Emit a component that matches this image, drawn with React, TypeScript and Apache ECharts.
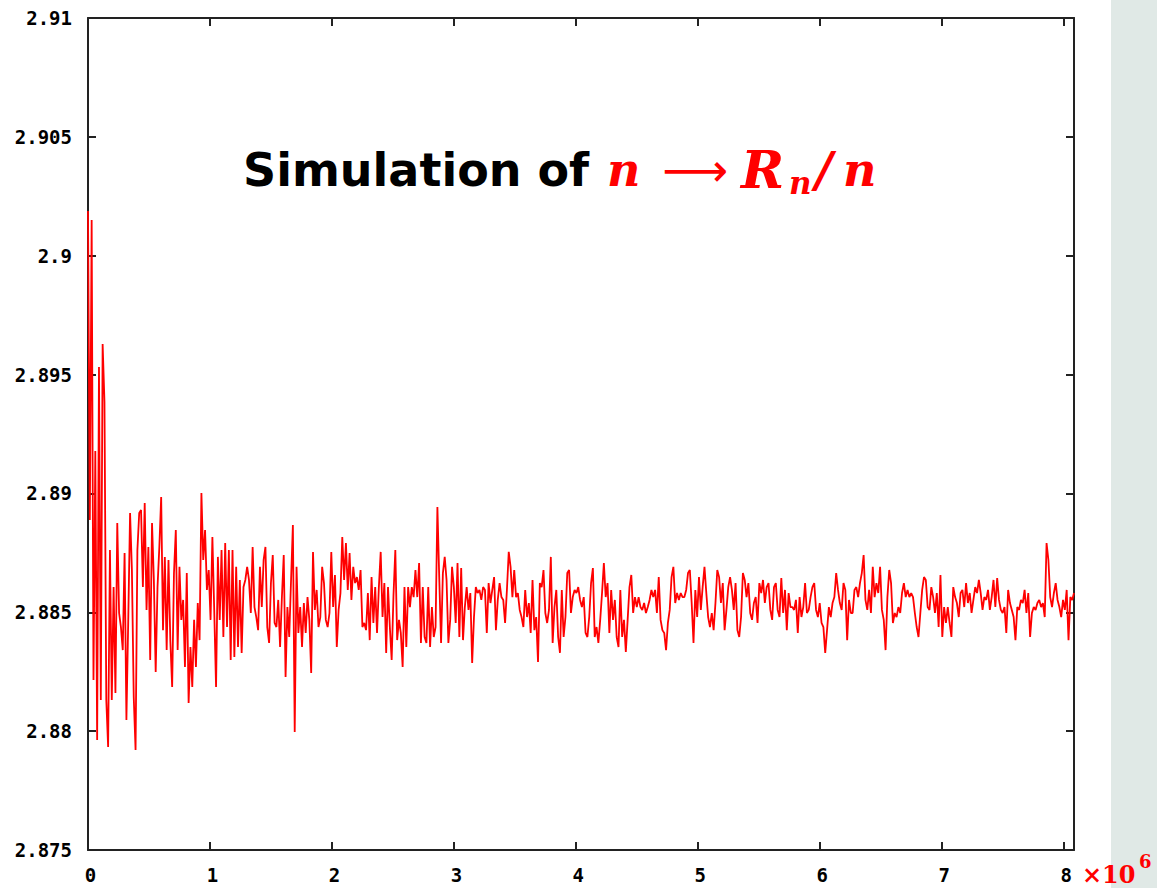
import React, { useEffect, useRef } from 'react';
import * as echarts from 'echarts';

// sample spacing along n, in units of 10^6 steps
const SAMPLE_STEP = 0.015;
const X_MIN = 0;
const X_MAX = 8.085;
const X_INTERVAL = 1;
const Y_MIN = 2.875;
const Y_MAX = 2.91;
const Y_INTERVAL = 0.005;
const X_TICK_LABELS = ['0', '1', '2', '3', '4', '5', '6', '7', '8'];

// R_n / n, in order of n
const ratioPart1 = [
  2.90188, 2.88888, 2.90150, 2.88215, 2.89178, 2.87963, 2.89532, 2.88131, 2.89629, 2.89385,
  2.88131, 2.87933, 2.88762, 2.88131, 2.88606, 2.88160, 2.88876, 2.88497, 2.88438, 2.88341,
  2.88749, 2.88047, 2.88468, 2.88918, 2.88678, 2.88144, 2.87921, 2.88762, 2.88918, 2.88930,
  2.88606, 2.88960, 2.88510, 2.88775, 2.88299, 2.88876, 2.88636, 2.88249, 2.88606, 2.88775,
  2.88985, 2.88425, 2.88733, 2.88341, 2.88720, 2.88383, 2.88186, 2.88665, 2.88846, 2.88341,
  2.88691, 2.88468, 2.88552, 2.88270, 2.88665, 2.88118, 2.88354, 2.88186, 2.88468, 2.88270,
  2.88539, 2.88383, 2.89002, 2.88720, 2.88846, 2.88594, 2.88678, 2.88468, 2.88817, 2.88510,
  2.88186, 2.88733, 2.88468, 2.88762, 2.88396, 2.88791, 2.88438, 2.88762, 2.88299, 2.88762,
  2.88312, 2.88691, 2.88354, 2.88636, 2.88329, 2.88606, 2.88636, 2.88691, 2.88636, 2.88497,
  2.88775, 2.88522,
];
const ratioPart2 = [
  2.88480, 2.88425, 2.88691, 2.88522, 2.88720, 2.88775, 2.88438, 2.88371, 2.88623, 2.88741,
  2.88455, 2.88438, 2.88552, 2.88354, 2.88564, 2.88741, 2.88228, 2.88522, 2.88396, 2.88636,
  2.88867, 2.87996, 2.88691, 2.88413, 2.88522, 2.88354, 2.88539, 2.88413, 2.88564, 2.88468,
  2.88245, 2.88754, 2.88510, 2.88594, 2.88438, 2.88480, 2.88691, 2.88623, 2.88468, 2.88438,
  2.88497, 2.88754, 2.88522, 2.88657, 2.88354, 2.88510, 2.88581, 2.88817, 2.88636, 2.88791,
  2.88594, 2.88749, 2.88552, 2.88691, 2.88623, 2.88648, 2.88594, 2.88678, 2.88438, 2.88455,
  2.88425, 2.88581, 2.88383, 2.88648, 2.88455, 2.88606, 2.88413, 2.88606, 2.88754, 2.88480,
  2.88623, 2.88329, 2.88606, 2.88438, 2.88299, 2.88573, 2.88762, 2.88383, 2.88468, 2.88413,
  2.88270, 2.88606, 2.88354, 2.88606, 2.88522, 2.88606, 2.88564, 2.88678, 2.88564, 2.88707,
];
const ratioPart3 = [
  2.88371, 2.88606, 2.88396, 2.88371, 2.88606, 2.88354, 2.88522, 2.88396, 2.88438, 2.88943,
  2.88648, 2.88371, 2.88665, 2.88733, 2.88636, 2.88371, 2.88468, 2.88691, 2.88606, 2.88455,
  2.88707, 2.88396, 2.88686, 2.88383, 2.88522, 2.88606, 2.88510, 2.88581, 2.88287, 2.88480,
  2.88606, 2.88581, 2.88594, 2.88552, 2.88606, 2.88594, 2.88413, 2.88623, 2.88539, 2.88594,
  2.88648, 2.88425, 2.88552, 2.88623, 2.88564, 2.88552, 2.88455, 2.88594, 2.88754, 2.88691,
  2.88564, 2.88678, 2.88564, 2.88581, 2.88510, 2.88480, 2.88438, 2.88594, 2.88480, 2.88539,
  2.88413, 2.88636, 2.88425, 2.88480, 2.88291, 2.88623, 2.88606, 2.88678, 2.88497, 2.88455,
  2.88510, 2.88733, 2.88371, 2.88522, 2.88594, 2.88396, 2.88329, 2.88594, 2.88396, 2.88480,
  2.88665, 2.88678, 2.88497, 2.88564, 2.88594, 2.88581, 2.88606, 2.88552, 2.88522, 2.88564,
];
const ratioPart4 = [
  2.88413, 2.88396, 2.88480, 2.88623, 2.88686, 2.88396, 2.88438, 2.88371, 2.88468, 2.88581,
  2.88707, 2.88564, 2.88623, 2.88413, 2.88594, 2.88468, 2.88552, 2.88396, 2.88354, 2.88594,
  2.88396, 2.88468, 2.88333, 2.88468, 2.88606, 2.88657, 2.88497, 2.88564, 2.88522, 2.88564,
  2.88522, 2.88510, 2.88539, 2.88497, 2.88522, 2.88552, 2.88594, 2.88564, 2.88594, 2.88497,
  2.88648, 2.88468, 2.88425, 2.88413, 2.88341, 2.88455, 2.88510, 2.88648, 2.88691, 2.88539,
  2.88581, 2.88552, 2.88581, 2.88564, 2.88564, 2.88594, 2.88665, 2.88678, 2.88539, 2.88371,
  2.88594, 2.88480, 2.88648, 2.88510, 2.88606, 2.88691, 2.88581, 2.88480, 2.88438, 2.88497,
  2.88425, 2.88539, 2.88678, 2.88648, 2.88539, 2.88623, 2.88425, 2.88510, 2.88606, 2.88648,
  2.88594, 2.88510, 2.88623, 2.88425, 2.88396, 2.88480, 2.88665, 2.88636, 2.88564, 2.88623,
  2.88497,
];
const ratioPart5 = [
  2.88468, 2.88539, 2.88564, 2.88455, 2.88623, 2.88581, 2.88636, 2.88539, 2.88606, 2.88623,
  2.88510, 2.88468, 2.88606, 2.88623, 2.88510, 2.88480, 2.88644, 2.88497, 2.88594, 2.88425,
  2.88581, 2.88522, 2.88522, 2.88510, 2.88552, 2.88413, 2.88564, 2.88480, 2.88522, 2.88623,
  2.88497, 2.88510, 2.88564, 2.88606, 2.88623, 2.88510, 2.88480, 2.88539, 2.88455, 2.88438,
  2.88329, 2.88425, 2.88522, 2.88480, 2.88539, 2.88564, 2.88665, 2.88594, 2.88539, 2.88510,
  2.88623, 2.88594, 2.88383, 2.88552, 2.88497, 2.88497, 2.88594, 2.88606, 2.88564, 2.88623,
  2.88665, 2.88741, 2.88552, 2.88510, 2.88594, 2.88497, 2.88691, 2.88564, 2.88623, 2.88581,
  2.88691, 2.88510, 2.88468, 2.88341, 2.88564, 2.88678, 2.88623, 2.88455, 2.88497, 2.88480,
  2.88522, 2.88497, 2.88581, 2.88623, 2.88564, 2.88594, 2.88564, 2.88581, 2.88564,
];
const ratioPart6 = [
  2.88497, 2.88438, 2.88396, 2.88497, 2.88594, 2.88648, 2.88636, 2.88522, 2.88510, 2.88606,
  2.88564, 2.88497, 2.88581, 2.88438, 2.88657, 2.88396, 2.88522, 2.88455, 2.88522, 2.88455,
  2.88396, 2.88606, 2.88564, 2.88539, 2.88480, 2.88581, 2.88594, 2.88522, 2.88623, 2.88539,
  2.88581, 2.88497, 2.88552, 2.88606, 2.88581, 2.88636, 2.88581, 2.88510, 2.88564, 2.88552,
  2.88594, 2.88510, 2.88564, 2.88636, 2.88522, 2.88644, 2.88552, 2.88510, 2.88497, 2.88522,
  2.88413, 2.88594, 2.88539, 2.88510, 2.88480, 2.88383, 2.88522, 2.88510, 2.88552, 2.88539,
  2.88594, 2.88497, 2.88581, 2.88396, 2.88497, 2.88522, 2.88510, 2.88539, 2.88552, 2.88522,
  2.88539, 2.88480, 2.88791, 2.88720, 2.88564, 2.88522, 2.88581, 2.88623, 2.88552, 2.88522,
  2.88480, 2.88552, 2.88510, 2.88594, 2.88383, 2.88564, 2.88552, 2.88581,
];

const ratio = [
  ...ratioPart1, ...ratioPart2, ...ratioPart3,
  ...ratioPart4, ...ratioPart5, ...ratioPart6,
];

export default function App() {
  const ref = useRef<HTMLDivElement>(null);

  useEffect(() => {
    if (!ref.current) return;
    const chart = echarts.init(ref.current, null, { renderer: 'svg' });
    const data = ratio.map((v, i) => [i * SAMPLE_STEP, v]);

    const labelFont = {
      fontFamily: '"DejaVu Sans Mono", monospace',
      fontWeight: 'bold' as const,
      fontSize: 19,
      color: '#000',
    };
    const axisLine = { show: true, onZero: false, lineStyle: { color: '#222', width: 2 } };
    const axisTick = { show: true, inside: true, length: 8, lineStyle: { color: '#222', width: 2 } };

    const xFmt = (v: number) => {
      const r = Math.round(v);
      return Math.abs(v - r) < 1e-6 && X_TICK_LABELS[r] !== undefined ? X_TICK_LABELS[r] : '';
    };
    const yFmt = (v: number) => String(parseFloat(v.toFixed(3)));

    const mathStyle = {
      fontFamily: '"DejaVu Serif", serif',
      fontStyle: 'italic',
      fontWeight: 'bold',
      fill: '#ff0000',
      verticalAlign: 'middle',
      align: 'left',
    };

    chart.setOption({
      animation: false,
      backgroundColor: '#ffffff',
      grid: { left: 88, top: 18, right: 83, bottom: 38, containLabel: false },
      xAxis: [
        {
          type: 'value', min: X_MIN, max: X_MAX, interval: X_INTERVAL, position: 'bottom',
          axisLine, axisTick, splitLine: { show: false },
          axisLabel: { ...labelFont, margin: 15, showMaxLabel: false, formatter: xFmt, padding: [0, 0, 0, 5] },
        },
        {
          type: 'value', min: X_MIN, max: X_MAX, interval: X_INTERVAL, position: 'top',
          axisLine, axisTick, splitLine: { show: false }, axisLabel: { show: false },
        },
      ],
      yAxis: [
        {
          type: 'value', min: Y_MIN, max: Y_MAX, interval: Y_INTERVAL, position: 'left',
          axisLine, axisTick, splitLine: { show: false },
          axisLabel: { ...labelFont, margin: 16, formatter: yFmt },
        },
        {
          type: 'value', min: Y_MIN, max: Y_MAX, interval: Y_INTERVAL, position: 'right',
          axisLine, axisTick, splitLine: { show: false }, axisLabel: { show: false },
        },
      ],
      series: [
        {
          type: 'line',
          xAxisIndex: 0,
          yAxisIndex: 0,
          data,
          symbol: 'none',
          showSymbol: false,
          lineStyle: { color: '#ff0000', width: 1.8 },
          z: 1,
        },
      ],
      graphic: [
        { type: 'rect', shape: { x: 1111, y: 0, width: 46, height: 888 }, style: { fill: '#e0e9e6' }, z: -1 },
        {
          type: 'text', x: 243, y: 170, z: 10,
          style: {
            text: 'Simulation of', fontFamily: '"DejaVu Sans", sans-serif', fontWeight: 'bold',
            fontSize: 46, fill: '#000', verticalAlign: 'middle', align: 'left',
          },
        },
        { type: 'text', x: 607, y: 170, z: 10, style: { ...mathStyle, text: 'n', fontSize: 46 } },
        {
          type: 'text', x: 662, y: 170, z: 10,
          style: {
            text: '\u27F6', fontFamily: '"DejaVu Sans", sans-serif', fontSize: 46,
            fill: '#ff0000', verticalAlign: 'middle', align: 'left',
          },
        },
        { type: 'text', x: 741, y: 169, z: 10, style: { ...mathStyle, text: 'R', fontSize: 52 } },
        { type: 'text', x: 789, y: 183, z: 10, style: { ...mathStyle, text: 'n', fontSize: 31 } },
        { type: 'text', x: 815, y: 170, z: 10, style: { ...mathStyle, text: '/', fontSize: 48 } },
        { type: 'text', x: 843, y: 170, z: 10, style: { ...mathStyle, text: 'n', fontSize: 46 } },
        {
          type: 'text', x: 1082, y: 874, z: 10,
          style: {
            text: '\u00D710', fontFamily: '"DejaVu Serif", serif', fontWeight: 'bold', fontSize: 24,
            fill: '#ff0000', verticalAlign: 'middle', align: 'left',
          },
        },
        {
          type: 'text', x: 1139, y: 861, z: 10,
          style: {
            text: '6', fontFamily: '"DejaVu Serif", serif', fontWeight: 'bold', fontSize: 18,
            fill: '#ff0000', verticalAlign: 'middle', align: 'left',
          },
        },
      ],
    });

    return () => chart.dispose();
  }, []);

  return (
    <div
      ref={ref}
      style={{ position: 'absolute', left: 0, top: 0, width: 1157, height: 888 }}
    />
  );
}
